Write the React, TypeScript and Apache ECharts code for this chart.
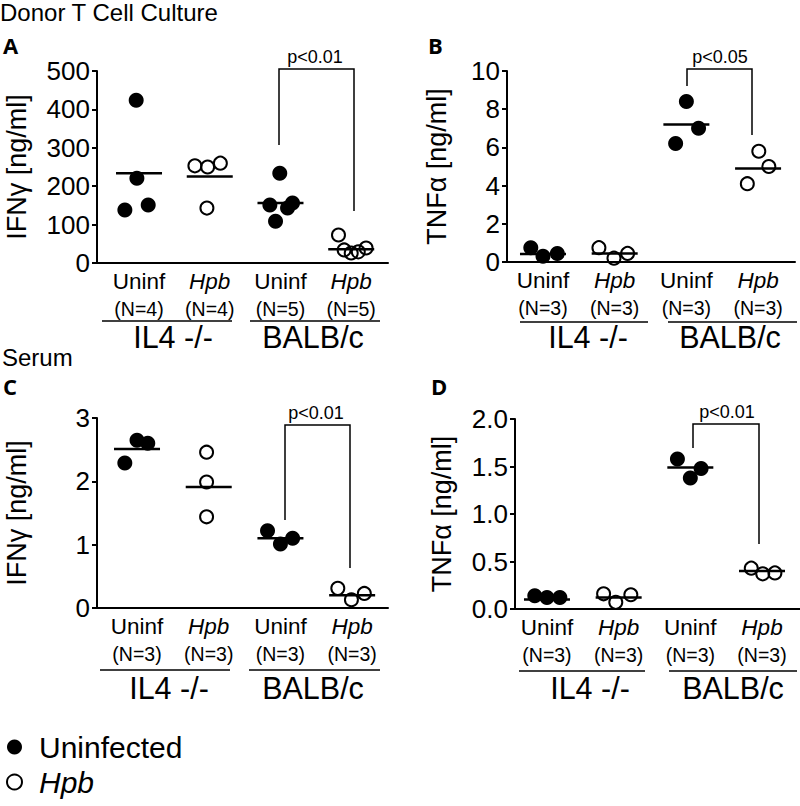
import React, { useEffect, useRef } from "react";
import * as echarts from "echarts";

const FONT = '"Liberation Sans", Arial, Helvetica, sans-serif';
const LETTER_FONT = '"Open Sans", "Liberation Sans", Arial, sans-serif';

// Group order: IL4-/- Uninf, IL4-/- Hpb, BALB/c Uninf, BALB/c Hpb
const categories = ["Uninf", "Hpb", "Uninf", "Hpb"];
const strains = ["IL4 -/-", "BALB/c"];

// Panel A: Donor T cell culture, IFNγ [ng/ml]
const aN = [4, 4, 5, 5];
const aValues = [
  [424, 221, 138, 151],
  [253, 250, 260, 143],
  [234, 151, 156, 143, 109],
  [73, 34, 26, 29, 39],
];
const aJitter = [
  [-0.04, -0.03, -0.2, 0.13],
  [-0.21, -0.03, 0.15, -0.04],
  [-0.01, -0.15, 0.17, 0.1, -0.07],
  [-0.18, -0.1, 0, 0.1, 0.21],
];
const aMeans = [234, 225, 156, 36];

// Panel B: Donor T cell culture, TNFα [ng/ml]
const bN = [3, 3, 3, 3];
const bValues = [
  [0.75, 0.3, 0.45],
  [0.75, 0.2, 0.45],
  [8.4, 7.0, 6.2],
  [5.8, 5.0, 4.1],
];
const bJitter = [
  [-0.17, 0, 0.2],
  [-0.22, -0.01, 0.18],
  [0, 0.17, -0.15],
  [0.01, 0.15, -0.15],
];
const bMeans = [0.42, 0.45, 7.2, 4.9];

// Panel C: Serum, IFNγ [ng/ml]
const cN = [3, 3, 3, 3];
const cValues = [
  [2.65, 2.6, 2.29],
  [2.46, 1.99, 1.44],
  [1.22, 1.01, 1.1],
  [0.31, 0.13, 0.23],
];
const cJitter = [
  [0, 0.15, -0.17],
  [-0.03, -0.03, -0.03],
  [-0.18, 0, 0.17],
  [-0.2, -0.01, 0.17],
];
const cMeans = [2.51, 1.91, 1.1, 0.2];

// Panel D: Serum, TNFα [ng/ml]
const dN = [3, 3, 3, 3];
const dValues = [
  [0.14, 0.12, 0.12],
  [0.16, 0.07, 0.15],
  [1.58, 1.48, 1.38],
  [0.43, 0.37, 0.38],
];
const dJitter = [
  [-0.17, 0, 0.18],
  [-0.21, -0.04, 0.17],
  [-0.18, 0.15, 0],
  [-0.15, 0.01, 0.18],
];
const dMeans = [0.1, 0.12, 1.49, 0.4];

const pLabels = ["p<0.01", "p<0.05", "p<0.01", "p<0.01"];

const panels = [
  {
    values: aValues, jitter: aJitter, means: aMeans, n: aN,
    grid: { left: 97, top: 71, width: 291, height: 192 },
    xMin: -0.594, xMax: 3.52, yMax: 500, yInterval: 100, decimals: 0,
    yName: "IFNγ [ng/ml]", nameGap: 67,
  },
  {
    values: bValues, jitter: bJitter, means: bMeans, n: bN,
    grid: { left: 507, top: 71, width: 288, height: 191 },
    xMin: -0.502, xMax: 3.515, yMax: 10, yInterval: 2, decimals: 0,
    yName: "TNFα [ng/ml]", nameGap: 57,
  },
  {
    values: cValues, jitter: cJitter, means: cMeans, n: cN,
    grid: { left: 97, top: 418, width: 291, height: 190 },
    xMin: -0.558, xMax: 3.5, yMax: 3, yInterval: 1, decimals: 0,
    yName: "IFNγ [ng/ml]", nameGap: 67,
  },
  {
    values: dValues, jitter: dJitter, means: dMeans, n: dN,
    grid: { left: 515, top: 419, width: 285, height: 190 },
    xMin: -0.446, xMax: 3.53, yMax: 2, yInterval: 0.5, decimals: 1,
    yName: "TNFα [ng/ml]", nameGap: 60,
  },
];

// annotation geometry (pixels)
const brackets = [
  { pts: [[279, 145], [279, 69], [354, 69], [354, 211]], tx: 315, ty: 57 },
  { pts: [[687, 86], [687, 69], [752, 69], [752, 135]], tx: 720, ty: 57 },
  { pts: [[285, 520], [285, 425], [350, 425], [350, 568]], tx: 316, ty: 413 },
  { pts: [[693, 448], [693, 424], [759, 424], [759, 544]], tx: 727, ty: 412 },
];
const strainBlocks = [
  { y: 321, ty: 337, segs: [[102, 232], [250, 380]], labels: [173, 313] },
  { y: 322, ty: 337, segs: [[520, 648], [668, 797]], labels: [588, 730] },
  { y: 670, ty: 688, segs: [[100, 230], [249, 380]], labels: [169, 313] },
  { y: 671, ty: 688, segs: [[519, 645], [669, 797]], labels: [590, 733] },
];

export default function App() {
  const ref = useRef<HTMLDivElement>(null);
  useEffect(() => {
    document.body.style.margin = "0";
    if (!ref.current) return;
    const chart = echarts.init(ref.current, null, { renderer: "svg" });

    const grids: any[] = [];
    const xAxes: any[] = [];
    const yAxes: any[] = [];
    const series: any[] = [];

    panels.forEach((p, i) => {
      grids.push({ ...p.grid, containLabel: false });
      xAxes.push({
        gridIndex: i,
        type: "value",
        min: p.xMin,
        max: p.xMax,
        axisLine: { show: true, onZero: false, lineStyle: { color: "#000", width: 2 } },
        axisTick: { show: false },
        splitLine: { show: false },
        axisLabel: {
          show: true,
          customValues: [0, 1, 2, 3],
          margin: 5,
          color: "#000",
          fontSize: 22.5,
          formatter: (v: number) => {
            const g = Math.round(v);
            const cat = categories[g];
            const top = cat === "Hpb" ? `{h|${cat}}` : `{u|${cat}}`;
            return `${top}\n{n|(N=${p.n[g]})}`;
          },
          rich: {
            u: { fontSize: 22.5, color: "#000", lineHeight: 27 },
            h: { fontSize: 22.5, color: "#000", fontStyle: "italic", lineHeight: 27 },
            n: { fontSize: 19.5, color: "#000", lineHeight: 27 },
          },
        },
      });
      yAxes.push({
        gridIndex: i,
        type: "value",
        min: 0,
        max: p.yMax,
        interval: p.yInterval,
        axisLine: { show: true, onZero: false, lineStyle: { color: "#000", width: 2 } },
        axisTick: { show: true, length: 5, lineStyle: { color: "#000", width: 2 } },
        splitLine: { show: false },
        axisLabel: {
          fontSize: 26,
          color: "#000",
          margin: 7,
          formatter: (v: number) => v.toFixed(p.decimals),
        },
        name: p.yName,
        nameLocation: "middle",
        nameGap: p.nameGap,
        nameTextStyle: { fontSize: 27, color: "#000" },
      });

      const filled: number[][] = [];
      const open: number[][] = [];
      p.values.forEach((grp, g) => {
        grp.forEach((v, k) => {
          const pt = [g + p.jitter[g][k], v];
          if (g % 2 === 0) filled.push(pt);
          else open.push(pt);
        });
      });
      series.push({
        type: "scatter",
        name: "Uninfected",
        xAxisIndex: i,
        yAxisIndex: i,
        symbol: "circle",
        symbolSize: 15,
        itemStyle: { color: "#000", opacity: 1 },
        emphasis: { disabled: true },
        data: filled,
        z: 2,
      });
      series.push({
        type: "scatter",
        name: "Hpb",
        xAxisIndex: i,
        yAxisIndex: i,
        symbol: "circle",
        symbolSize: 13,
        itemStyle: { color: "rgba(255,255,255,0)", borderColor: "#000", borderWidth: 2, opacity: 1 },
        emphasis: { disabled: true },
        data: open,
        z: 2,
      });
      series.push({
        type: "scatter",
        name: "Mean",
        xAxisIndex: i,
        yAxisIndex: i,
        symbol: "rect",
        symbolSize: [46, 2.5],
        itemStyle: { color: "#000", opacity: 1 },
        emphasis: { disabled: true },
        silent: true,
        data: p.means.map((m, g) => [g, m]),
        z: 4,
      });
    });

    const graphic: any[] = [
      {
        type: "text", left: 0, top: 0,
        style: { text: "Donor T Cell Culture", fontSize: 24, fontFamily: FONT, fill: "#000" },
      },
      {
        type: "text", left: 2, top: 345,
        style: { text: "Serum", fontSize: 24, fontFamily: FONT, fill: "#000" },
      },
    ];
    const letters = [
      { t: "A", x: 3, y: 45 },
      { t: "B", x: 428, y: 45 },
      { t: "C", x: 3, y: 386 },
      { t: "D", x: 431, y: 386 },
    ];
    letters.forEach((l) =>
      graphic.push({
        type: "text", x: l.x, y: l.y,
        style: {
          text: l.t, fontSize: 22, fontWeight: "bold", fontFamily: LETTER_FONT,
          fill: "#000", textVerticalAlign: "middle",
        },
      })
    );
    brackets.forEach((b, i) => {
      graphic.push({
        type: "polyline",
        shape: { points: b.pts },
        style: { stroke: "#000", lineWidth: 1.5, fill: null },
      });
      graphic.push({
        type: "text", x: b.tx, y: b.ty,
        style: {
          text: pLabels[i], fontSize: 18, fontFamily: FONT, fill: "#000",
          textAlign: "center", textVerticalAlign: "middle",
        },
      });
    });
    strainBlocks.forEach((s) => {
      s.segs.forEach((seg, k) => {
        graphic.push({
          type: "line",
          shape: { x1: seg[0], y1: s.y, x2: seg[1], y2: s.y },
          style: { stroke: "#000", lineWidth: 1.5 },
        });
        graphic.push({
          type: "text", x: s.labels[k], y: s.ty,
          style: {
            text: strains[k], fontSize: 30.5, fontFamily: FONT, fill: "#000",
            textAlign: "center", textVerticalAlign: "middle",
          },
        });
      });
    });

    chart.setOption({
      animation: false,
      textStyle: { fontFamily: FONT },
      grid: grids,
      xAxis: xAxes,
      yAxis: yAxes,
      series,
      legend: {
        data: ["Uninfected", "Hpb"],
        orient: "vertical",
        left: 1,
        bottom: 4,
        itemWidth: 15,
        itemHeight: 15,
        itemGap: 5,
        selectedMode: false,
        formatter: (name: string) => (name === "Hpb" ? "{i|Hpb}" : "{r|Uninfected}"),
        textStyle: {
          fontSize: 30,
          color: "#000",
          padding: [0, 0, 0, 12],
          rich: {
            i: { fontSize: 30, fontStyle: "italic", color: "#000" },
            r: { fontSize: 30, color: "#000" },
          },
        },
      },
      graphic,
    });
    return () => chart.dispose();
  }, []);
  return <div ref={ref} style={{ width: 800, height: 806 }} />;
}
